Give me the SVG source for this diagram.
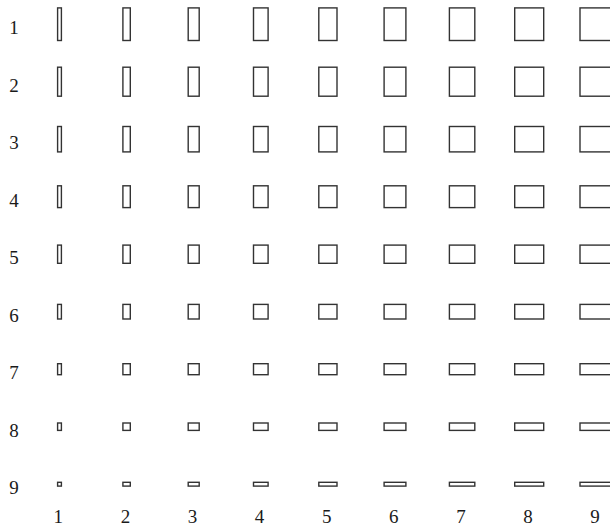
<svg xmlns="http://www.w3.org/2000/svg" width="610" height="527" viewBox="0 0 610 527">
<style>
rect.b{fill:none;stroke:#333333;stroke-width:1.4}
text{font-family:"Liberation Serif","Times New Roman",serif;font-size:19px;fill:#1a1a1a;text-anchor:middle}
</style>
<rect x="0" y="0" width="610" height="527" fill="#ffffff"/>
<g id="row-labels">
<text x="14" y="34.2">1</text>
<text x="14" y="91.7">2</text>
<text x="14" y="149.2">3</text>
<text x="14" y="206.7">4</text>
<text x="14" y="264.2">5</text>
<text x="14" y="321.7">6</text>
<text x="14" y="379.2">7</text>
<text x="14" y="436.7">8</text>
<text x="14" y="494.2">9</text>
</g>
<g id="col-labels">
<text x="58.3" y="523">1</text>
<text x="125.4" y="523">2</text>
<text x="192.5" y="523">3</text>
<text x="259.6" y="523">4</text>
<text x="326.7" y="523">5</text>
<text x="393.8" y="523">6</text>
<text x="460.9" y="523">7</text>
<text x="528" y="523">8</text>
<text x="595.1" y="523">9</text>
</g>
<g id="row1" transform="translate(0,7.9)">
<rect class="b" x="57.6" y="0" width="3.8" height="32.6"/><rect class="b" x="122.9" y="0" width="7.4" height="32.6"/><rect class="b" x="188.2" y="0" width="11" height="32.6"/><rect class="b" x="253.5" y="0" width="14.6" height="32.6"/><rect class="b" x="318.8" y="0" width="18.2" height="32.6"/><rect class="b" x="384.1" y="0" width="21.8" height="32.6"/><rect class="b" x="449.4" y="0" width="25.4" height="32.6"/><rect class="b" x="514.7" y="0" width="29" height="32.6"/><rect class="b" x="580" y="0" width="32.6" height="32.6"/>
</g>
<g id="row2" transform="translate(0,67.2)">
<rect class="b" x="57.6" y="0" width="3.8" height="29"/><rect class="b" x="122.9" y="0" width="7.4" height="29"/><rect class="b" x="188.2" y="0" width="11" height="29"/><rect class="b" x="253.5" y="0" width="14.6" height="29"/><rect class="b" x="318.8" y="0" width="18.2" height="29"/><rect class="b" x="384.1" y="0" width="21.8" height="29"/><rect class="b" x="449.4" y="0" width="25.4" height="29"/><rect class="b" x="514.7" y="0" width="29" height="29"/><rect class="b" x="580" y="0" width="32.6" height="29"/>
</g>
<g id="row3" transform="translate(0,126.5)">
<rect class="b" x="57.6" y="0" width="3.8" height="25.4"/><rect class="b" x="122.9" y="0" width="7.4" height="25.4"/><rect class="b" x="188.2" y="0" width="11" height="25.4"/><rect class="b" x="253.5" y="0" width="14.6" height="25.4"/><rect class="b" x="318.8" y="0" width="18.2" height="25.4"/><rect class="b" x="384.1" y="0" width="21.8" height="25.4"/><rect class="b" x="449.4" y="0" width="25.4" height="25.4"/><rect class="b" x="514.7" y="0" width="29" height="25.4"/><rect class="b" x="580" y="0" width="32.6" height="25.4"/>
</g>
<g id="row4" transform="translate(0,185.8)">
<rect class="b" x="57.6" y="0" width="3.8" height="21.8"/><rect class="b" x="122.9" y="0" width="7.4" height="21.8"/><rect class="b" x="188.2" y="0" width="11" height="21.8"/><rect class="b" x="253.5" y="0" width="14.6" height="21.8"/><rect class="b" x="318.8" y="0" width="18.2" height="21.8"/><rect class="b" x="384.1" y="0" width="21.8" height="21.8"/><rect class="b" x="449.4" y="0" width="25.4" height="21.8"/><rect class="b" x="514.7" y="0" width="29" height="21.8"/><rect class="b" x="580" y="0" width="32.6" height="21.8"/>
</g>
<g id="row5" transform="translate(0,245.1)">
<rect class="b" x="57.6" y="0" width="3.8" height="18.2"/><rect class="b" x="122.9" y="0" width="7.4" height="18.2"/><rect class="b" x="188.2" y="0" width="11" height="18.2"/><rect class="b" x="253.5" y="0" width="14.6" height="18.2"/><rect class="b" x="318.8" y="0" width="18.2" height="18.2"/><rect class="b" x="384.1" y="0" width="21.8" height="18.2"/><rect class="b" x="449.4" y="0" width="25.4" height="18.2"/><rect class="b" x="514.7" y="0" width="29" height="18.2"/><rect class="b" x="580" y="0" width="32.6" height="18.2"/>
</g>
<g id="row6" transform="translate(0,304.4)">
<rect class="b" x="57.6" y="0" width="3.8" height="14.6"/><rect class="b" x="122.9" y="0" width="7.4" height="14.6"/><rect class="b" x="188.2" y="0" width="11" height="14.6"/><rect class="b" x="253.5" y="0" width="14.6" height="14.6"/><rect class="b" x="318.8" y="0" width="18.2" height="14.6"/><rect class="b" x="384.1" y="0" width="21.8" height="14.6"/><rect class="b" x="449.4" y="0" width="25.4" height="14.6"/><rect class="b" x="514.7" y="0" width="29" height="14.6"/><rect class="b" x="580" y="0" width="32.6" height="14.6"/>
</g>
<g id="row7" transform="translate(0,363.7)">
<rect class="b" x="57.6" y="0" width="3.8" height="11"/><rect class="b" x="122.9" y="0" width="7.4" height="11"/><rect class="b" x="188.2" y="0" width="11" height="11"/><rect class="b" x="253.5" y="0" width="14.6" height="11"/><rect class="b" x="318.8" y="0" width="18.2" height="11"/><rect class="b" x="384.1" y="0" width="21.8" height="11"/><rect class="b" x="449.4" y="0" width="25.4" height="11"/><rect class="b" x="514.7" y="0" width="29" height="11"/><rect class="b" x="580" y="0" width="32.6" height="11"/>
</g>
<g id="row8" transform="translate(0,423)">
<rect class="b" x="57.6" y="0" width="3.8" height="7.4"/><rect class="b" x="122.9" y="0" width="7.4" height="7.4"/><rect class="b" x="188.2" y="0" width="11" height="7.4"/><rect class="b" x="253.5" y="0" width="14.6" height="7.4"/><rect class="b" x="318.8" y="0" width="18.2" height="7.4"/><rect class="b" x="384.1" y="0" width="21.8" height="7.4"/><rect class="b" x="449.4" y="0" width="25.4" height="7.4"/><rect class="b" x="514.7" y="0" width="29" height="7.4"/><rect class="b" x="580" y="0" width="32.6" height="7.4"/>
</g>
<g id="row9" transform="translate(0,482.3)">
<rect class="b" x="57.6" y="0" width="3.8" height="3.8"/><rect class="b" x="122.9" y="0" width="7.4" height="3.8"/><rect class="b" x="188.2" y="0" width="11" height="3.8"/><rect class="b" x="253.5" y="0" width="14.6" height="3.8"/><rect class="b" x="318.8" y="0" width="18.2" height="3.8"/><rect class="b" x="384.1" y="0" width="21.8" height="3.8"/><rect class="b" x="449.4" y="0" width="25.4" height="3.8"/><rect class="b" x="514.7" y="0" width="29" height="3.8"/><rect class="b" x="580" y="0" width="32.6" height="3.8"/>
</g>
</svg>
